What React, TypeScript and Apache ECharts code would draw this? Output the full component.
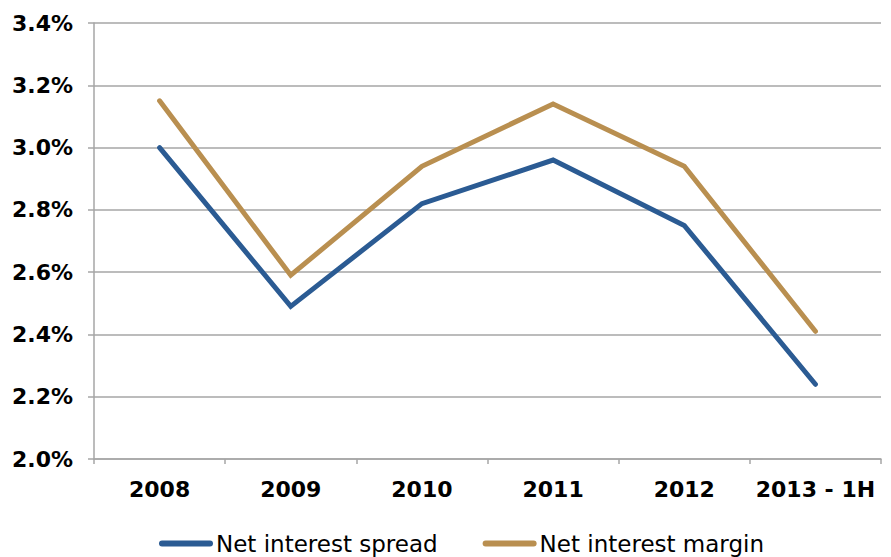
import React, { useEffect, useRef } from "react";
import * as echarts from "echarts";

const categories = ["2008", "2009", "2010", "2011", "2012", "2013 - 1H"];
const netInterestSpread = [3.0, 2.49, 2.82, 2.96, 2.75, 2.24];
const netInterestMargin = [3.15, 2.59, 2.94, 3.14, 2.94, 2.41];
const yMin = 2.0;
const yMax = 3.4;
const yStep = 0.2;

const BLUE = "#2B5B93";
const GOLD = "#B98F50";
const GRID = "#A6A6A6";
const FONT = "DejaVu Sans";

// rounded bar used as the legend swatch
const swatch = "path://M3,0 L51,0 A3,3 0 0 1 51,6 L3,6 A3,3 0 0 1 3,0 Z";

export default function App() {
  const ref = useRef<HTMLDivElement>(null);

  useEffect(() => {
    if (!ref.current) return;
    const chart = echarts.init(ref.current, undefined, { renderer: "svg" });
    chart.setOption({
      animation: false,
      backgroundColor: "#ffffff",
      grid: { left: 94, right: 10, top: 23, bottom: 98, containLabel: false },
      legend: {
        left: 159,
        top: 532,
        padding: 0,
        itemWidth: 56,
        itemHeight: 6,
        itemGap: 45,
        textStyle: { fontFamily: FONT, fontSize: 23, color: "#000", padding: [0, 0, 0, -3] },
        data: [
          { name: "Net interest spread", icon: swatch },
          { name: "Net interest margin", icon: swatch },
        ],
      },
      xAxis: {
        type: "category",
        data: categories,
        boundaryGap: true,
        axisLine: { show: true, lineStyle: { color: GRID, width: 1.5 } },
        axisTick: { show: true, interval: 0, length: 5, lineStyle: { color: GRID, width: 1.5 } },
        axisLabel: {
          interval: 0,
          margin: 19,
          fontFamily: FONT,
          fontSize: 22,
          fontWeight: "bold",
          color: "#000",
        },
        splitLine: { show: false },
      },
      yAxis: {
        type: "value",
        min: yMin,
        max: yMax,
        interval: yStep,
        axisLine: { show: true, lineStyle: { color: GRID, width: 1.5 } },
        axisTick: { show: true, length: 6, lineStyle: { color: GRID, width: 1.5 } },
        axisLabel: {
          margin: 21,
          fontFamily: FONT,
          fontSize: 22,
          fontWeight: "bold",
          color: "#000",
          formatter: (v: number) => v.toFixed(1) + "%",
        },
        splitLine: { show: true, lineStyle: { color: GRID, width: 1.5 } },
      },
      series: [
        {
          name: "Net interest spread",
          type: "line",
          data: netInterestSpread,
          symbol: "none",
          color: BLUE,
          lineStyle: { color: BLUE, width: 5, cap: "round", join: "miter" },
        },
        {
          name: "Net interest margin",
          type: "line",
          data: netInterestMargin,
          symbol: "none",
          color: GOLD,
          lineStyle: { color: GOLD, width: 5, cap: "round", join: "miter" },
        },
      ],
    });
    return () => chart.dispose();
  }, []);

  return <div ref={ref} style={{ width: 891, height: 557, position: "absolute", left: 0, top: 0 }} />;
}
